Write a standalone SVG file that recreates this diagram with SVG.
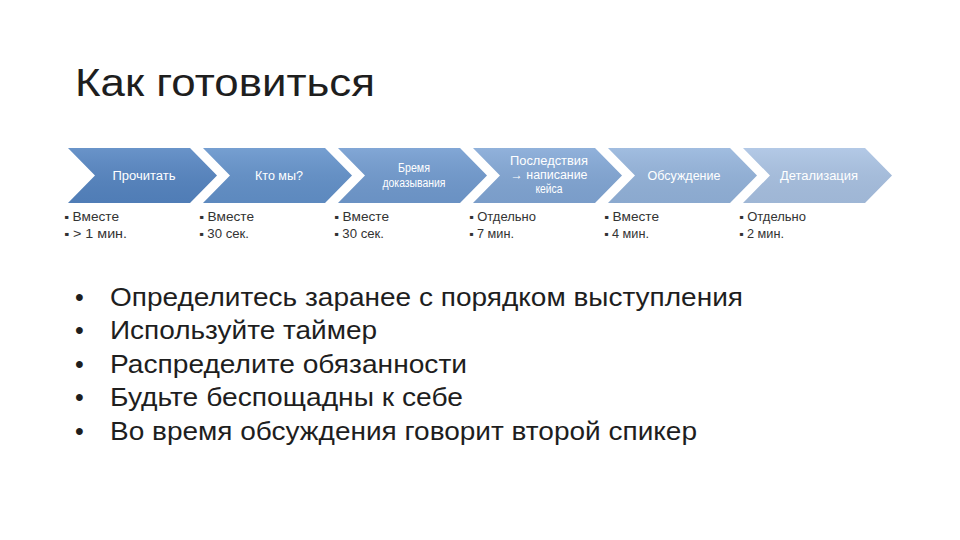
<svg xmlns="http://www.w3.org/2000/svg" width="960" height="540" viewBox="0 0 960 540">
<defs>
<style>
.t{font-family:"Liberation Sans",Arial,sans-serif;fill:#1e1e1e}
.cl{font-family:"Liberation Sans",Arial,sans-serif;font-size:12px;fill:#ffffff;text-anchor:middle}
.sb{font-family:"Liberation Sans",Arial,sans-serif;font-size:12px;fill:#333333}
</style>
<linearGradient id="g" x1="0" y1="0" x2="0" y2="1">
<stop offset="0" stop-color="#ffffff" stop-opacity="0.12"/>
<stop offset="1" stop-color="#000000" stop-opacity="0.06"/>
</linearGradient>
<polygon id="chev" points="0,148 122,148 149,175.5 122,203 0,203 27,175.5"/>
</defs>
<rect width="960" height="540" fill="#ffffff"/>
<text class="t" x="75" y="96" font-size="38" textLength="300" lengthAdjust="spacingAndGlyphs">Как готовиться</text>
<g id="n1"><use href="#chev" x="68" fill="#5585c2"/><use href="#chev" x="68" fill="url(#g)"/><text class="cl" x="144" y="180" textLength="63" lengthAdjust="spacingAndGlyphs">Прочитать</text>
<text class="sb" x="64" y="221" textLength="55" lengthAdjust="spacingAndGlyphs">▪ Вместе</text><text class="sb" x="64" y="238" textLength="63" lengthAdjust="spacingAndGlyphs">▪ &gt; 1 мин.</text></g>
<g id="n2"><use href="#chev" x="203" fill="#6392cb"/><use href="#chev" x="203" fill="url(#g)"/><text class="cl" x="279" y="180" textLength="48" lengthAdjust="spacingAndGlyphs">Кто мы?</text>
<text class="sb" x="199" y="221" textLength="55" lengthAdjust="spacingAndGlyphs">▪ Вместе</text><text class="sb" x="199" y="238" textLength="50" lengthAdjust="spacingAndGlyphs">▪ 30 сек.</text></g>
<g id="n3"><use href="#chev" x="338" fill="#719bd0"/><use href="#chev" x="338" fill="url(#g)"/><text class="cl" x="414" y="172" textLength="32" lengthAdjust="spacingAndGlyphs">Бремя</text><text class="cl" x="414" y="187" textLength="63" lengthAdjust="spacingAndGlyphs">доказывания</text>
<text class="sb" x="334" y="221" textLength="55" lengthAdjust="spacingAndGlyphs">▪ Вместе</text><text class="sb" x="334" y="238" textLength="50" lengthAdjust="spacingAndGlyphs">▪ 30 сек.</text></g>
<g id="n4"><use href="#chev" x="473" fill="#82a7d6"/><use href="#chev" x="473" fill="url(#g)"/><text class="cl" x="549" y="165" textLength="78" lengthAdjust="spacingAndGlyphs">Последствия</text><text class="cl" x="549" y="179" textLength="77" lengthAdjust="spacingAndGlyphs">→ написание</text><text class="cl" x="549" y="193" textLength="27" lengthAdjust="spacingAndGlyphs">кейса</text>
<text class="sb" x="469" y="221" textLength="67" lengthAdjust="spacingAndGlyphs">▪ Отдельно</text><text class="sb" x="469" y="238" textLength="45" lengthAdjust="spacingAndGlyphs">▪ 7 мин.</text></g>
<g id="n5"><use href="#chev" x="608" fill="#94b4dc"/><use href="#chev" x="608" fill="url(#g)"/><text class="cl" x="684" y="180" textLength="73" lengthAdjust="spacingAndGlyphs">Обсуждение</text>
<text class="sb" x="604" y="221" textLength="55" lengthAdjust="spacingAndGlyphs">▪ Вместе</text><text class="sb" x="604" y="238" textLength="45" lengthAdjust="spacingAndGlyphs">▪ 4 мин.</text></g>
<g id="n6"><use href="#chev" x="743" fill="#a9c2e3"/><use href="#chev" x="743" fill="url(#g)"/><text class="cl" x="819" y="180" textLength="78" lengthAdjust="spacingAndGlyphs">Детализация</text>
<text class="sb" x="739" y="221" textLength="67" lengthAdjust="spacingAndGlyphs">▪ Отдельно</text><text class="sb" x="739" y="238" textLength="45" lengthAdjust="spacingAndGlyphs">▪ 2 мин.</text></g>
<g id="connectors"></g>
<g class="t" font-size="25">
<text x="75" y="306">•</text><text x="110" y="306" textLength="633" lengthAdjust="spacingAndGlyphs">Определитесь заранее с порядком выступления</text>
<text x="75" y="339">•</text><text x="110" y="339" textLength="267" lengthAdjust="spacingAndGlyphs">Используйте таймер</text>
<text x="75" y="373">•</text><text x="110" y="373" textLength="357" lengthAdjust="spacingAndGlyphs">Распределите обязанности</text>
<text x="75" y="406">•</text><text x="110" y="406" textLength="353" lengthAdjust="spacingAndGlyphs">Будьте беспощадны к себе</text>
<text x="75" y="440">•</text><text x="110" y="440" textLength="587" lengthAdjust="spacingAndGlyphs">Во время обсуждения говорит второй спикер</text>
</g>
</svg>
